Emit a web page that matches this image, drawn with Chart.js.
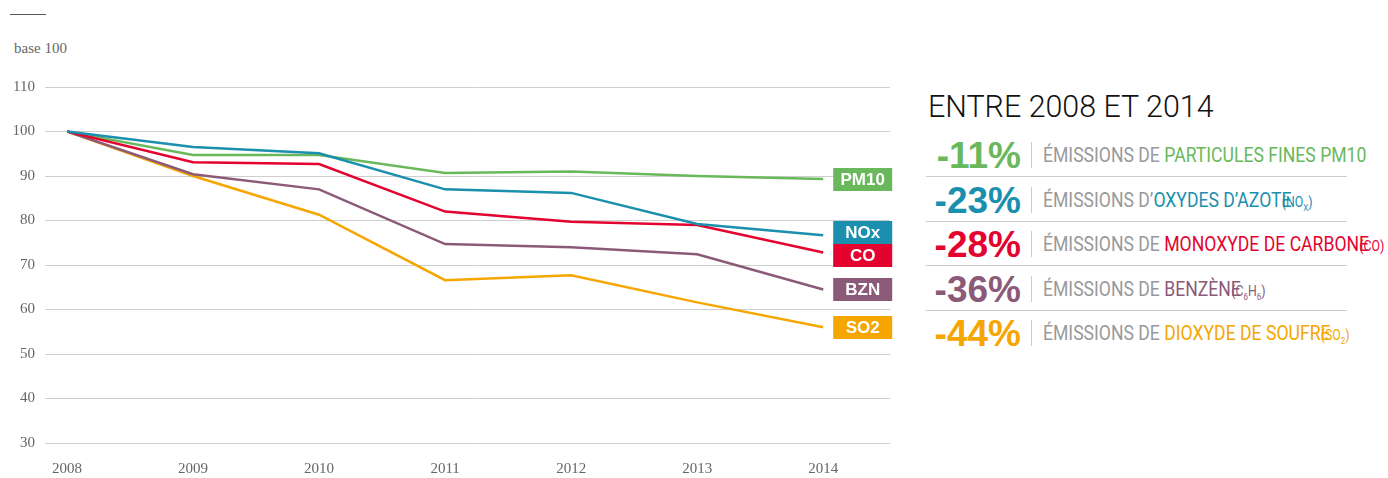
<!DOCTYPE html>
<html>
<head>
<meta charset="utf-8">
<script src="https://cdn.jsdelivr.net/npm/chart.js@4"></script>
<style>
  html, body { margin: 0; padding: 0; background: #fff; }
  body { width: 1388px; height: 478px; position: relative; overflow: hidden; }
  #wrap { position: absolute; left: 0; top: 0; width: 900px; height: 478px; }
  .topline { position: absolute; left: 10px; top: 14px; width: 36px; border-top: 1px solid #555; }
  .base { position: absolute; left: 14px; top: 40px; font: 15px "Liberation Serif", serif; color: #666; }
  #panel { position: absolute; left: 926px; top: 0; width: 462px; height: 478px; }
  .title { position: absolute; left: 2px; top: 87px; font: 300 32px Roboto, sans-serif; color: #111;
           transform: scaleX(0.95); transform-origin: left center; white-space: nowrap; }
  .row { position: absolute; left: 0; width: 421px; height: 44px; }
  .row.ruled { border-bottom: 1px solid #ccc; }
  .pct { position: absolute; right: 326px; top: 0; font: bold 37px "Liberation Sans", Arial, sans-serif; line-height: 48px; }
  .sep { position: absolute; left: 105px; top: 10px; height: 26px; border-left: 1px solid #ccc; }
  .txt { display: block; position: absolute; left: 117px; top: 1px; height: 44px; font: 20px Roboto, sans-serif; line-height: 44px; color: #999;
         transform: scaleX(0.88); transform-origin: left center; white-space: nowrap; }
  .txt small { font-size: 14px; margin-left: -11px; }
</style>
</head>
<body>
<div class="topline"></div>
<div class="base">base 100</div>
<div id="wrap"><canvas id="chart" width="900" height="478"></canvas></div>
<div id="panel">
  <div class="title">ENTRE 2008 ET 2014</div>
</div>
<script>
const YEARS = [2008, 2009, 2010, 2011, 2012, 2013, 2014];
const Y_TICKS = [30, 40, 50, 60, 70, 80, 90, 100, 110];

const PM10 = [100, 94.7, 94.7, 90.7, 91.0, 90.0, 89.3];
const NOX = [100, 96.5, 95.1, 87.0, 86.2, 79.2, 76.7];
const CO = [100, 93.1, 92.7, 82.0, 79.7, 79.0, 72.8];
const BZN = [100, 90.4, 87.0, 74.7, 74.0, 72.4, 64.5];
const SO2 = [100, 90.0, 81.3, 66.6, 67.7, 61.6, 56.0];

const SERIES_NAMES = ["PM10", "NOx", "CO", "BZN", "SO2"];
const SERIES_VALUES = [PM10, NOX, CO, BZN, SO2];
const SERIES_COLOURS = ["#6ab85c", "#1b8fae", "#e4032e", "#8b5a78", "#f5a600"];

const CHANGE_PCT = ["-11%", "-23%", "-28%", "-36%", "-44%"];
const CHANGE_TEXT = [
  ["ÉMISSIONS DE ", "PARTICULES FINES PM10", ""],
  ["ÉMISSIONS D’", "OXYDES D’AZOTE", "(NO<sub style='font-size:9px'>X</sub>)"],
  ["ÉMISSIONS DE ", "MONOXYDE DE CARBONE", "(CO)"],
  ["ÉMISSIONS DE ", "BENZÈNE", "(C<sub style='font-size:9px'>6</sub>H<sub style='font-size:9px'>6</sub>)"],
  ["ÉMISSIONS DE ", "DIOXYDE DE SOUFRE", "(SO<sub style='font-size:9px'>2</sub>)"],
];

// right-hand summary rows
const panel = document.getElementById("panel");
panel.insertAdjacentHTML("beforeend", CHANGE_PCT.map((pct, i) => {
  const [lead, name, formula] = CHANGE_TEXT[i];
  const c = SERIES_COLOURS[i];
  return `<div class="row${i < 4 ? " ruled" : ""}" style="top:${132 + 44.5 * i}px">
    <span class="pct" style="color:${c}">${pct}</span>
    <span class="sep"></span>
    <span class="txt">${lead}<span style="color:${c}">${name}</span>${formula ? `<small style="color:${c}">${formula}</small>` : ""}</span>
  </div>`;
}).join(""));

// tag boxes at the end of each line, pushed apart when they would overlap
const endTags = {
  id: "endTags",
  afterDatasetsDraw(chart) {
    const { ctx, scales } = chart;
    const h = 23, w = 59;
    const tags = SERIES_NAMES.map((name, i) => ({
      name, colour: SERIES_COLOURS[i],
      y: scales.y.getPixelForValue(SERIES_VALUES[i][SERIES_VALUES[i].length - 1]),
    })).sort((a, b) => a.y - b.y);
    for (let i = 1; i < tags.length; i++) {
      const prev = tags[i - 1];
      if (tags[i].y - prev.y < h) {
        const mid = (tags[i].y + prev.y) / 2;
        prev.y = mid - h / 2;
        tags[i].y = mid + h / 2;
      }
    }
    const x = scales.x.getPixelForValue(YEARS[YEARS.length - 1]) + 10;
    ctx.save();
    ctx.font = "bold 17px 'Liberation Sans', Arial, sans-serif";
    ctx.textAlign = "center";
    ctx.textBaseline = "middle";
    for (const t of tags) {
      ctx.fillStyle = t.colour;
      ctx.fillRect(x, Math.round(t.y - h / 2), w, h);
      ctx.fillStyle = "#fff";
      ctx.fillText(t.name, x + w / 2, t.y + 1);
    }
    ctx.restore();
  },
};

new Chart(document.getElementById("chart"), {
  type: "line",
  data: {
    datasets: SERIES_NAMES.map((name, i) => ({
      label: name,
      data: SERIES_VALUES[i].map((v, j) => ({ x: YEARS[j], y: v })),
      borderColor: SERIES_COLOURS[i],
      backgroundColor: SERIES_COLOURS[i],
      borderWidth: 2.5,
      pointRadius: 0,
      tension: 0,
      order: i === 0 ? 5 : i,
    })),
  },
  options: {
    animation: false,
    responsive: false,
    layout: { padding: { top: 87, right: 10, left: 0, bottom: 0 } },
    plugins: { legend: { display: false }, tooltip: { enabled: false } },
    scales: {
      x: {
        type: "linear",
        min: YEARS[0],
        max: 2014.53,
        afterBuildTicks: (scale) => { scale.ticks = YEARS.map((v) => ({ value: v })); },
        afterFit: (scale) => { scale.height = 35; },
        grid: { display: false },
        border: { display: false },
        ticks: { padding: 9, color: "#666", font: { family: "Liberation Serif", size: 15 }, callback: (v) => String(v), maxRotation: 0 },
      },
      y: {
        min: 30,
        max: 110,
        afterBuildTicks: (scale) => { scale.ticks = Y_TICKS.map((v) => ({ value: v })); },
        afterFit: (scale) => { scale.width = 67; },
        grid: { color: "#cfcfcf", lineWidth: 1, tickLength: 22 },
        border: { display: false },
        ticks: { padding: 10, color: "#666", font: { family: "Liberation Serif", size: 15 } },
      },
    },
  },
  plugins: [endTags],
});
</script>
</body>
</html>
